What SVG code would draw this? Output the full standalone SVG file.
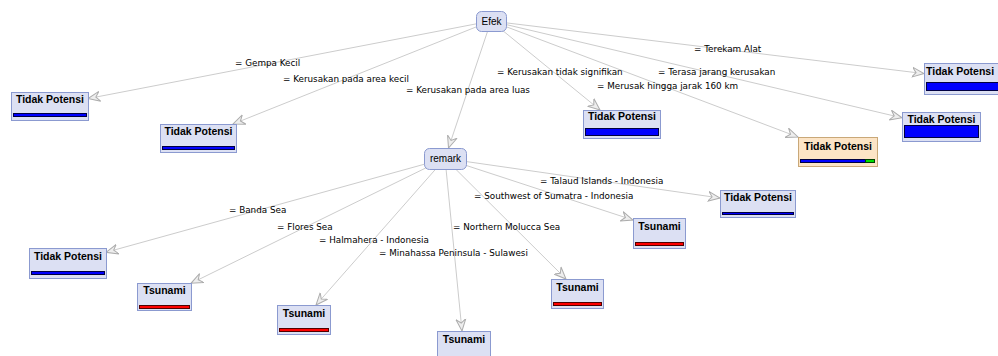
<svg xmlns="http://www.w3.org/2000/svg" width="998" height="356" viewBox="0 0 998 356">
<defs>
<marker id="arr" markerUnits="userSpaceOnUse" markerWidth="14" markerHeight="12" refX="12" refY="6" orient="auto">
<path d="M0,1 L12,6 L0,11 L4,6 Z" fill="#eeeeee" stroke="#acacac" stroke-width="1"/>
</marker>
</defs>
<style>
.e{stroke:#cccccc;stroke-width:1;fill:none;marker-end:url(#arr)}
.lbl{font-family:"DejaVu Sans",sans-serif;font-size:8.8px;fill:#000}
.box{fill:#dce0f3;stroke:#8b9ad0;stroke-width:1}
.obox{fill:#fce4c6;stroke:#c9a878;stroke-width:1}
.t{font-family:"Liberation Sans",Arial,sans-serif;font-size:10.5px;font-weight:bold;fill:#000;text-anchor:middle}
.r{font-family:"Liberation Sans",Arial,sans-serif;font-size:10px;fill:#000;text-anchor:middle}
.bb{fill:#0000ff;stroke:#000040;stroke-width:1}
.br{fill:#ff0000;stroke:#500000;stroke-width:1}
.bg{fill:#00e000;stroke:#004000;stroke-width:1}
</style>
<rect width="998" height="356" fill="#ffffff"/>
<g id="connectors">
<line class="e" x1="491" y1="21" x2="88" y2="98.6"/>
<line class="e" x1="491" y1="21" x2="233" y2="124"/>
<line class="e" x1="491" y1="21" x2="448.5" y2="148"/>
<line class="e" x1="491" y1="21" x2="600" y2="110"/>
<line class="e" x1="491" y1="21" x2="798" y2="137"/>
<line class="e" x1="491" y1="21" x2="902" y2="117.8"/>
<line class="e" x1="491" y1="21" x2="924" y2="73.6"/>
<line class="e" x1="445" y1="158.5" x2="106" y2="252.3"/>
<line class="e" x1="445" y1="158.5" x2="191" y2="283.3"/>
<line class="e" x1="445" y1="158.5" x2="316" y2="305"/>
<line class="e" x1="445" y1="158.5" x2="462" y2="331"/>
<line class="e" x1="445" y1="158.5" x2="566" y2="279"/>
<line class="e" x1="445" y1="158.5" x2="633" y2="220"/>
<line class="e" x1="445" y1="158.5" x2="720" y2="198"/>
</g>
<g id="labels">
<text class="lbl" x="235" y="66">= Gempa Kecil</text>
<text class="lbl" x="283" y="82">= Kerusakan pada area kecil</text>
<text class="lbl" x="406" y="93">= Kerusakan pada area luas</text>
<text class="lbl" x="497" y="75">= Kerusakan tidak signifikan</text>
<text class="lbl" x="597" y="89">= Merusak hingga jarak 160 km</text>
<text class="lbl" x="658" y="75">= Terasa jarang kerusakan</text>
<text class="lbl" x="694" y="52">= Terekam Alat</text>
<text class="lbl" x="540" y="184">= Talaud Islands - Indonesia</text>
<text class="lbl" x="474" y="199">= Southwest of Sumatra - Indonesia</text>
<text class="lbl" x="229" y="213">= Banda Sea</text>
<text class="lbl" x="277" y="230">= Flores Sea</text>
<text class="lbl" x="453" y="230">= Northern Molucca Sea</text>
<text class="lbl" x="319" y="243">= Halmahera - Indonesia</text>
<text class="lbl" x="379" y="256">= Minahassa Peninsula - Sulawesi</text>
</g>
<g id="efek">
<rect class="box" x="476.5" y="11.5" width="30" height="20" rx="5"/>
<text class="r" x="491.5" y="25">Efek</text>
</g>
<g id="remark">
<rect class="box" x="424.5" y="148.5" width="42" height="21" rx="5"/>
<text class="r" x="445.5" y="162">remark</text>
</g>
<g id="tp1">
<rect class="box" x="11.5" y="92.5" width="77" height="28"/>
<text class="t" x="50" y="103">Tidak Potensi</text>
<rect class="bb" x="13.5" y="113.5" width="73" height="3"/>
</g>
<g id="tp2">
<rect class="box" x="160.5" y="124.5" width="76" height="28"/>
<text class="t" x="198.5" y="135">Tidak Potensi</text>
<rect class="bb" x="162.5" y="146.5" width="72" height="3"/>
</g>
<g id="tp3">
<rect class="box" x="583.5" y="110.5" width="77" height="28"/>
<text class="t" x="622" y="120">Tidak Potensi</text>
<rect class="bb" x="585.5" y="128.5" width="73" height="7"/>
</g>
<g id="tp4">
<rect class="obox" x="798.5" y="137.5" width="79" height="29"/>
<text class="t" x="838" y="149.5">Tidak Potensi</text>
<rect class="bb" x="800.5" y="159.5" width="65" height="3"/>
<rect class="bg" x="865.5" y="159.5" width="9" height="3"/>
</g>
<g id="tp5">
<rect class="box" x="924.5" y="63.5" width="80" height="31"/>
<text class="t" x="926" y="74.5" style="text-anchor:start">Tidak Potensi</text>
<rect class="bb" x="926.5" y="82.5" width="76" height="8"/>
</g>
<g id="tp6">
<rect class="box" x="902.5" y="112.5" width="78" height="29"/>
<text class="t" x="941.5" y="122.5">Tidak Potensi</text>
<rect class="bb" x="904.5" y="125.5" width="74" height="12"/>
</g>
<g id="tp7">
<rect class="box" x="720.5" y="190.5" width="75" height="27"/>
<text class="t" x="758" y="200.5">Tidak Potensi</text>
<rect class="bb" x="722.5" y="212.5" width="71" height="2"/>
</g>
<g id="ts1">
<rect class="box" x="633.5" y="218.5" width="52" height="30"/>
<text class="t" x="659.5" y="229.5">Tsunami</text>
<rect class="br" x="635.5" y="242.5" width="48" height="3"/>
</g>
<g id="tp8">
<rect class="box" x="29.5" y="248.5" width="77" height="30"/>
<text class="t" x="68" y="259.5">Tidak Potensi</text>
<rect class="bb" x="31.5" y="271.5" width="73" height="3"/>
</g>
<g id="ts2">
<rect class="box" x="137.5" y="283.5" width="54" height="27"/>
<text class="t" x="164.5" y="293.5">Tsunami</text>
<rect class="br" x="139.5" y="305.5" width="50" height="3"/>
</g>
<g id="ts3">
<rect class="box" x="277.5" y="305.5" width="53" height="29"/>
<text class="t" x="304" y="316.5">Tsunami</text>
<rect class="br" x="279.5" y="328.5" width="49" height="3"/>
</g>
<g id="ts4">
<rect class="box" x="551.5" y="279.5" width="52" height="29"/>
<text class="t" x="577.5" y="290.5">Tsunami</text>
<rect class="br" x="553.5" y="302.5" width="48" height="3"/>
</g>
<g id="ts5">
<rect class="box" x="437.5" y="331.5" width="53" height="26"/>
<text class="t" x="464" y="342.5">Tsunami</text>
</g>
</svg>
